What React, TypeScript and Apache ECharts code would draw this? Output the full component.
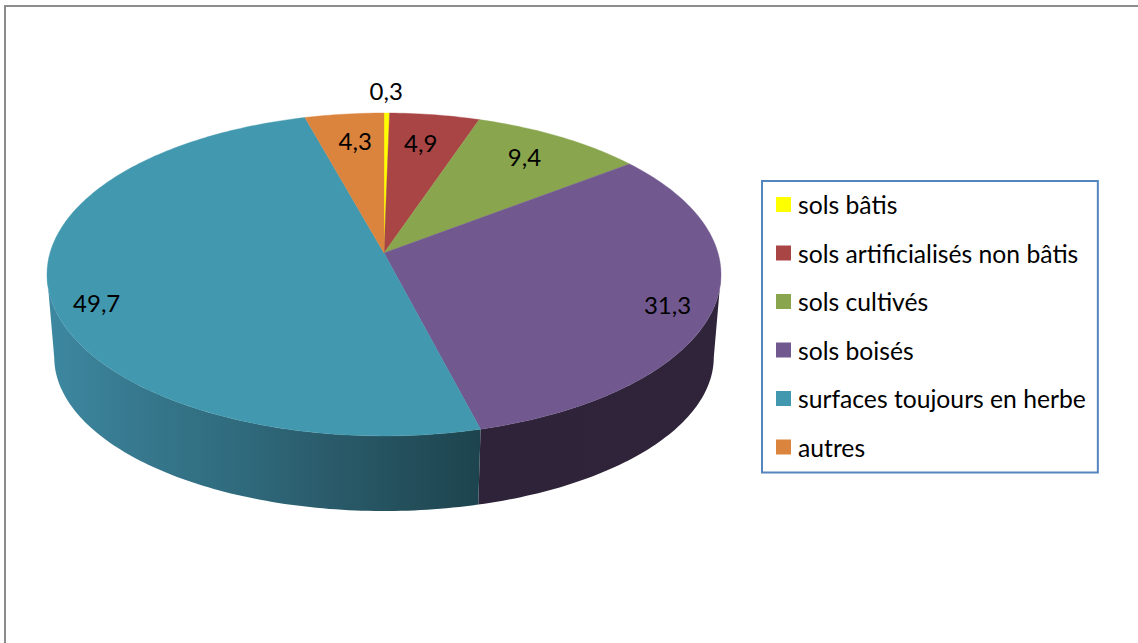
import React, { useEffect, useRef } from "react";
import * as echarts from "echarts";

const categories = [
  "sols bâtis",
  "sols artificialisés non bâtis",
  "sols cultivés",
  "sols boisés",
  "surfaces toujours en herbe",
  "autres",
];
const shares = [0.3, 4.9, 9.4, 31.3, 49.7, 4.3];
const colors = ["#FFFF00", "#A94544", "#89A54E", "#71588F", "#4198AF", "#DB843D"];

// Where each value label sits: fraction of the radius, then a fine adjustment in pixels.
const labelRadius = [1.17, 0.78, 0.8, 0.87, 0.87, 0.78];
const labelShiftX = [-1, -4, -3, -2, 2, 3];
const labelShiftY = [-2, 0, -2, 5, 13, -1];

const FONT = '24px Lato, "Noto Sans", sans-serif';

// Perspective projection of the disc: top face and lower rim of the cylinder.
const topFace = { cx: 384, cy: 253, a: 334, b: 158.6, p: 0.133 };
const lowerRim = { cx: 384, cy: 337, a: 327, b: 151.4, p: 0.13 };
const FRONT_FROM = 97.6;
const FRONT_TO = 262.4;

type Face = typeof topFace;

function project(f: Face, deg: number, r = 1): number[] {
  const t = (deg * Math.PI) / 180;
  const u = Math.sin(t) * r;
  const v = Math.cos(t) * r;
  const d = 1 + f.p * v;
  return [f.cx + (f.a * u) / d, f.cy - (f.b * v) / d];
}

function arcPoints(f: Face, from: number, to: number): number[][] {
  const steps = Math.max(2, Math.ceil(Math.abs(to - from)));
  const pts: number[][] = [];
  for (let i = 0; i <= steps; i++) pts.push(project(f, from + ((to - from) * i) / steps));
  return pts;
}

const total = shares.reduce((s, v) => s + v, 0);
const startAngles = shares.map(
  (_, i) => (shares.slice(0, i).reduce((s, v) => s + v, 0) / total) * 360
);

function wallFill(i: number) {
  if (i === 3) {
    return new echarts.graphic.LinearGradient(0, 0, 1, 0, [
      { offset: 0, color: "#2E2338" },
      { offset: 1, color: "#30243A" },
    ]);
  }
  return new echarts.graphic.LinearGradient(0, 0, 1, 0, [
    { offset: 0, color: "#3D88A1" },
    { offset: 0.2, color: "#37798F" },
    { offset: 0.45, color: "#2F6A7C" },
    { offset: 0.65, color: "#2A5B6A" },
    { offset: 1, color: "#1D444E" },
  ]);
}

function renderSlice(i: number) {
  const from = startAngles[i];
  const to = from + (shares[i] / total) * 360;
  const children: any[] = [];

  const wallFrom = Math.max(from, FRONT_FROM);
  const wallTo = Math.min(to, FRONT_TO);
  if (wallTo > wallFrom) {
    const upper = arcPoints(topFace, wallFrom, wallTo);
    const lower = arcPoints(lowerRim, wallFrom, wallTo).reverse();
    children.push({
      type: "polygon",
      shape: { points: upper.concat(lower) },
      style: { fill: wallFill(i) },
    });
  }

  children.push({
    type: "polygon",
    shape: { points: [[topFace.cx, topFace.cy], ...arcPoints(topFace, from, to)] },
    style: { fill: colors[i], stroke: colors[i], lineWidth: 0.4 },
  });

  const mid = (from + to) / 2;
  const [lx, ly] = project(topFace, mid, labelRadius[i]);
  children.push({
    type: "text",
    z2: 10,
    x: lx + labelShiftX[i],
    y: ly + labelShiftY[i],
    style: {
      text: String(shares[i]).replace(".", ","),
      font: FONT,
      fill: "#000000",
      align: "center",
      verticalAlign: "middle",
    },
  });
  return { type: "group", children };
}

export default function App() {
  const ref = useRef<HTMLDivElement>(null);

  useEffect(() => {
    const chart = echarts.init(ref.current!, null, { renderer: "svg" });
    chart.setOption({
      animation: false,
      backgroundColor: "#FFFFFF",
      legend: {
        orient: "vertical",
        left: 762,
        top: 181,
        selectedMode: false,
        icon: "rect",
        itemWidth: 15,
        itemHeight: 15,
        itemGap: 23.5,
        padding: [11, 12, 13, 14],
        borderColor: "#5585BE",
        borderWidth: 2,
        textStyle: {
          fontFamily: 'Lato, "Noto Sans", sans-serif',
          fontSize: 24.7,
          lineHeight: 24,
          color: "#000000",
          padding: [0, 0, 0, 2],
        },
        data: categories,
      },
      graphic: [
        {
          type: "polyline",
          shape: { points: [[5, 643], [5, 6], [1138, 6]] },
          style: { stroke: "#8C8C8C", lineWidth: 2, fill: "none" },
        },
      ],
      series: categories.map((name, i) => ({
        type: "custom",
        name,
        coordinateSystem: "none",
        itemStyle: { color: colors[i] },
        data: [[shares[i]]],
        renderItem: () => renderSlice(i),
      })),
    });
    return () => chart.dispose();
  }, []);

  return <div ref={ref} style={{ position: "fixed", left: 0, top: 0, width: 1138, height: 643 }} />;
}
